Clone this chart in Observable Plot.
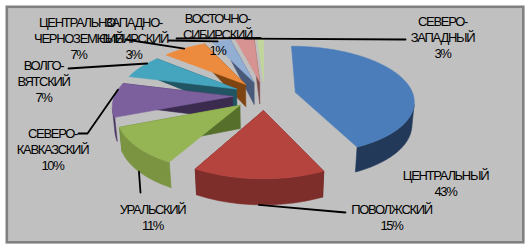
<!DOCTYPE html>
<html><head><meta charset="utf-8">
<script src="https://cdn.jsdelivr.net/npm/d3@7"></script>
<script src="https://cdn.jsdelivr.net/npm/@observablehq/plot@0.6"></script>
<style>
html,body{margin:0;padding:0;background:#fff;}
#chart{position:absolute;left:0;top:0;}
#chart svg text{letter-spacing:-1.3px;}
</style></head><body><div id="chart"></div>
<script>
// ---- data ----
const regions = ["ЦЕНТРАЛЬНЫЙ","ПОВОЛЖСКИЙ","УРАЛЬСКИЙ","СЕВЕРО-КАВКАЗСКИЙ","ВОЛГО-ВЯТСКИЙ","ЦЕНТРАЛЬНО-ЧЕРНОЗЕМНЫЙ","ЗАПАДНО-СИБИРСКИЙ","СЕВЕРО-ЗАПАДНЫЙ","ВОСТОЧНО-СИБИРСКИЙ"];
const shares = [43,15,11,10,7,7,3,3,1];
const percentLabels = ["43%","15%","11%","10%","7%","7%","3%","3%","1%"];

// ---- styles ----
const topColors    = ["#4a7dba","#b5443f","#95b555","#7c5f9d","#46a5be","#ec8b3e","#93aed3","#d69391","#c2d69b"];
const rimColors    = ["#23395a","#7d2d2a","#7a9442","#4a3866","#2a6778","#9a5520","#55698a","#8f5b59","#7f8f5d"];
const radialColors = ["#1c2f4a","#5e2220","#56702b","#3b2c4f","#215563","#7e4412","#48597a","#7a4a48","#6b7a4a"];

// ---- layout ----
const W = 527, H = 246;
const view = {cx:264, cy:95, s:118, phi:27*Math.PI/180, D:6.2, explode:0.27, depth:0.22};
// label block: [center x, first baseline]
const labelLayout = [[445,179],[391,213],[152,213],[52,137],[43,69],[78,26],[133,26],[442,25],[217,22]];
const lineStep = 16;
// leader: label-side point(s); slice end computed from geometry
const leaderLayout = [
  null,
  {pts:[[345,212]], frac:0.5, bottom:true},
  {pts:[[140,192]], frac:0.5, bottom:true},
  {pts:[[78,133],[87,133]], frac:0.8, bottom:false},
  {pts:[[68,68]], frac:0.7, bottom:false},
  {pts:[[125,39]], frac:0.5, bottom:false},
  {pts:[[168,40]], frac:0.3, bottom:false},
  {pts:[[405,39]], frac:0.5, bottom:false},
  {pts:[[176,38]], frac:0.5, bottom:false}
];

// ---- geometry ----
function project(X, Y, Z) {
  const sp = Math.sin(view.phi), cp = Math.cos(view.phi);
  const v = Z*sp + Y*cp, w = view.D + Z*cp - Y*sp;
  const k = view.s*view.D/w;
  return [view.cx + X*k, view.cy - v*k];
}
const total = d3.sum(shares);
let acc = 0;
const slices = regions.map((name,i) => {
  const a = acc/total*2*Math.PI; acc += shares[i];
  const b = acc/total*2*Math.PI;
  return {i, name, a, b, m:(a+b)/2};
});
function P(sl, r, t, Y) {
  const ox = view.explode*Math.sin(sl.m), oz = view.explode*Math.cos(sl.m);
  return project(ox + r*Math.sin(t), Y, oz + r*Math.cos(t));
}
function area(p){let s=0;for(let i=0;i<p.length;i++){const q=p[(i+1)%p.length];s+=p[i][0]*q[1]-q[0]*p[i][1];}return s/2;}

const faceMarks = [];
function addFace(pts, color) {
  const data = pts.concat([pts[0]]).map(([x,y]) => ({x,y}));
  faceMarks.push(Plot.line(data, {x:"x", y:"y", fill:color, stroke:color, strokeWidth:0.6, strokeLinejoin:"round"}));
}
const order = slices.slice().sort((p,q) => Math.cos(q.m) - Math.cos(p.m));
for (const sl of order) {
  const h = -view.depth;
  const n = Math.max(2, Math.ceil((sl.b-sl.a)/(Math.PI/180)));
  const ts = d3.range(n+1).map(k => sl.a + (sl.b-sl.a)*k/n);
  const top = [P(sl,0,0,0), ...ts.map(t => P(sl,1,t,0))];
  const ref = Math.sign(area(top));
  const faces = [];
  const ra = [P(sl,0,0,0), P(sl,1,sl.a,0), P(sl,1,sl.a,h), P(sl,0,0,h)];
  const rb = [P(sl,0,0,0), P(sl,0,0,h), P(sl,1,sl.b,h), P(sl,1,sl.b,0)];
  if (Math.sign(area(ra)) === ref) faces.push([ra, radialColors[sl.i]]);
  if (Math.sign(area(rb)) === ref) faces.push([rb, radialColors[sl.i]]);
  let run = [];
  const flush = () => {
    if (run.length) {
      const t0 = run[0], t1 = run[run.length-1] + 1;
      const seg = ts.slice(t0, t1+1);
      const poly = [...seg.map(t => P(sl,1,t,h)), ...seg.slice().reverse().map(t => P(sl,1,t,0))];
      faces.push([poly, rimColors[sl.i]]);
      run = [];
    }
  };
  for (let k = 0; k < n; k++) {
    const q = [P(sl,1,ts[k],h), P(sl,1,ts[k+1],h), P(sl,1,ts[k+1],0), P(sl,1,ts[k],0)];
    if (Math.sign(area(q)) === ref) run.push(k); else flush();
  }
  flush();
  for (const [poly,c] of faces) addFace(poly, c);
  addFace(top, topColors[sl.i]);
}

// ---- labels ----
const textLines = [];
slices.forEach((sl,i) => {
  const parts = sl.name.replace("-", "-\n").split("\n").concat([percentLabels[i]]);
  const [lx, ly] = labelLayout[i];
  parts.forEach((t,k) => textLines.push({text:t, x:lx, y:ly + k*lineStep}));
});
const leaders = [];
slices.forEach((sl,i) => {
  const L = leaderLayout[i]; if (!L) return;
  const t = sl.a + (sl.b-sl.a)*L.frac;
  const end = P(sl, 1, t, L.bottom ? -view.depth : 0);
  L.pts.concat([end]).forEach(([x,y]) => leaders.push({id:i, x, y}));
});

const chart = Plot.plot({
  width: W, height: H,
  marginLeft: 6.3, marginTop: 6.3, marginRight: 4.2, marginBottom: 4.2,
  x: {domain:[0,W], range:[0,W], axis:null},
  y: {domain:[0,H], range:[0,H], axis:null},
  style: {background:"#ffffff"},
  marks: [
    Plot.frame({fill:"#c0c0c0", stroke:"#808080", strokeWidth:2.6}),
    ...faceMarks,
    Plot.line(leaders, {x:"x", y:"y", z:"id", stroke:"#000", strokeWidth:1.8}),
    Plot.text(textLines, {x:"x", y:"y", text:"text", textAnchor:"middle", lineAnchor:"bottom",
      fontSize:13, fontFamily:"Liberation Sans, Arial, sans-serif", fill:"#000"})
  ]
});
document.getElementById("chart").appendChild(chart);
</script></body></html>
